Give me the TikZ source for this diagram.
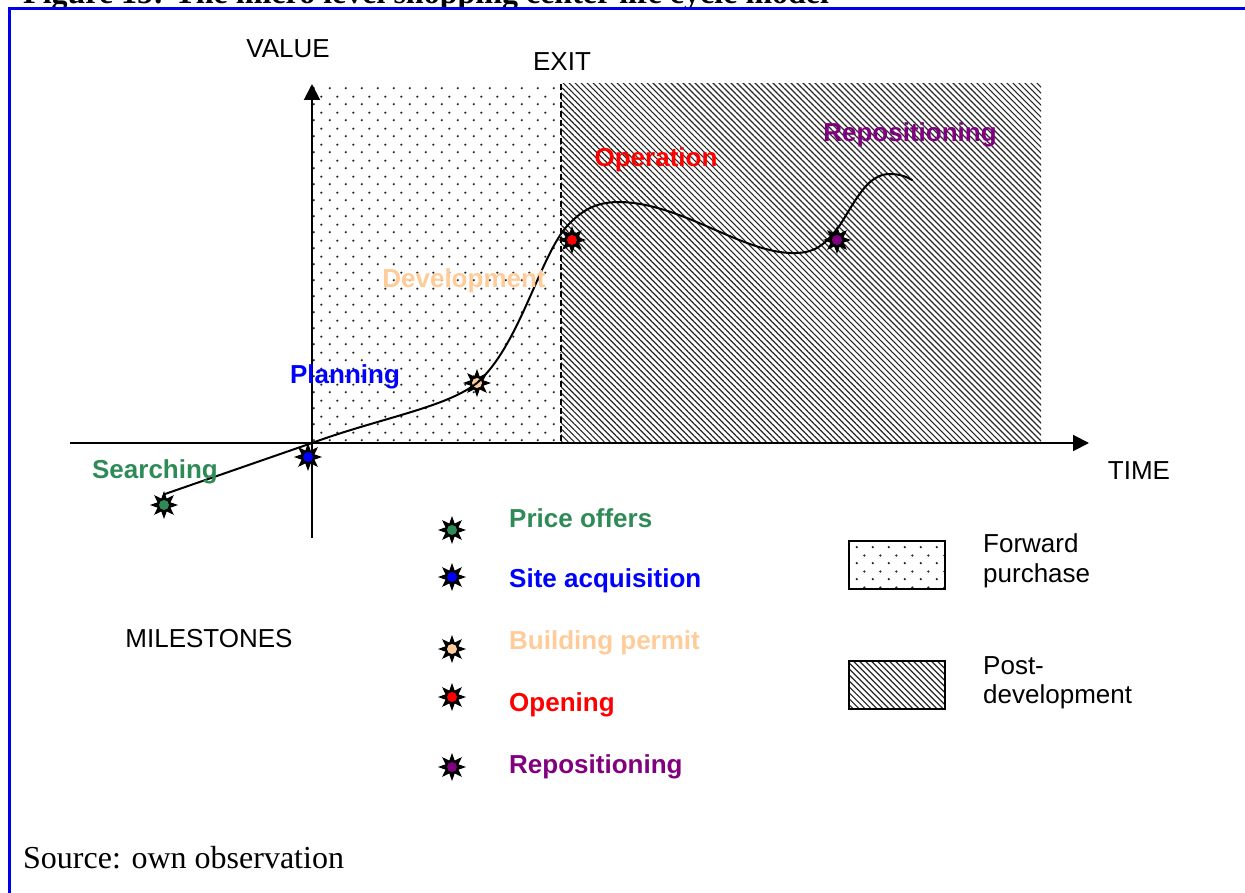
\documentclass[tikz,border=0pt]{standalone}
\usepackage{fontspec}
\setmainfont{Liberation Serif}
\newfontfamily\arialf{Liberation Sans}
\usetikzlibrary{shapes.geometric,patterns,patterns.meta,arrows.meta}

\definecolor{cgreen}{RGB}{46,139,87}
\definecolor{cblue}{RGB}{0,0,255}
\definecolor{cpeach}{RGB}{255,204,153}
\definecolor{cred}{RGB}{255,0,0}
\definecolor{cpurple}{RGB}{128,0,128}
\definecolor{frameblue}{RGB}{0,0,235}

% staggered dot fill for the forward-purchase phase
\pgfdeclarepatternformonly{stagdots}{\pgfpointorigin}{\pgfpoint{15.5pt}{15.5pt}}{\pgfpoint{15.5pt}{15.5pt}}{%
  \pgfpathcircle{\pgfpoint{3.9pt}{3.9pt}}{1.25pt}%
  \pgfpathcircle{\pgfpoint{11.65pt}{11.65pt}}{1.25pt}%
  \pgfusepath{fill}}

\tikzset{
  lbl/.style={font=\arialf\fontsize{26}{30}\selectfont, inner sep=0},
  blbl/.style={font=\arialf\bfseries\fontsize{26}{30}\selectfont, inner sep=0},
  axis/.style={line width=2pt, -{Triangle[length=16pt,width=16pt]}},
  fwdarea/.style={pattern=stagdots, pattern color=black!85},
  postarea/.style={pattern={Lines[angle=-45,distance=4.24pt,line width=1.2pt]}, pattern color=black!85},
  mstar/.style={star, star points=8, star point ratio=2.0, minimum size=28pt, inner sep=0, fill=black, draw=none},
  mdot/.style={circle, minimum size=10pt, inner sep=0, draw=none},
  lifecurve/.style={line width=2pt, line cap=round},
  legbox/.style={draw=black, line width=2pt},
}

\newcommand\milestone[3]{%
  \node[mstar] (#1) at #2 {};
  \node[mdot, fill=#3] (#1-c) at (#1) {};}

\begin{document}
\begin{tikzpicture}[x=1pt,y=-1pt]
\useasboundingbox (0,0) rectangle (1245,893);
\clip (0,0) rectangle (1245,893);

% caption and frame
\node[anchor=base west, font=\bfseries\fontsize{32}{36}\selectfont, inner sep=0] (title) at (23,4)
  {Figure 15: The micro level shopping center life cycle model};
\draw[frameblue, line width=3pt] (1260,9) -- (9,9) -- (9,910);

% phase areas
\fill[white] (312,84) rectangle (561,443);
\fill[fwdarea] (312,84) rectangle (561,443);
\fill[postarea] (561,84) rectangle (1041,443);
\coordinate (exittop) at (561,84);
\coordinate (exitbot) at (561,443);
\draw[line width=2pt, dash pattern=on 6pt off 3pt] (exittop) -- (exitbot);

% axes
\coordinate (ybot) at (312,538);
\coordinate (ytop) at (312,84);
\coordinate (xleft) at (70,443);
\coordinate (xright) at (1089,443);
\coordinate (o) at (312,443);
\draw[axis] (ybot) -- (ytop);
\draw[axis] (xleft) -- (xright);

\node[lbl, anchor=base] (value) at (288,58) {VALUE};
\node[lbl, anchor=base] (exit) at (562,71) {EXIT};
\node[lbl, anchor=base] (time) at (1139,479) {TIME};
\node[lbl, anchor=base] (miles) at (209,647) {MILESTONES};

% milestones on the curve
\milestone{ms}{(164,505)}{cgreen}
\milestone{mp}{(308,457)}{cblue}
\milestone{md}{(477,383)}{cpeach}
\milestone{mo}{(572,240)}{cred}
\milestone{mr}{(837,240)}{cpurple}

% life cycle curve
\coordinate (cstart) at (165,494);
\draw[lifecurve] (cstart) -- (o)
  .. controls (380,418) and (445,408) .. (477,383)
  .. controls (520,345) and (540,255) .. (568,225)
  .. controls (585,207) and (600,202) .. (620,202)
  .. controls (680,203) and (740,251) .. (790,253)
  .. controls (815,254) and (825,245) .. (840,225)
  .. controls (857,198) and (868,174) .. (890,174)
  .. controls (900,174) and (907,177) .. (912,180);

% phase labels
\node[blbl, text=cgreen, anchor=base] (lsearch) at (155,478) {Searching};
\node[blbl, text=cblue, anchor=base] (lplan) at (345,383) {Planning};
\node[blbl, text=cpeach, anchor=base] (ldev) at (464,288) {Development};
\node[blbl, text=cred, anchor=base] (lop) at (656,167) {Operation};
\node[blbl, text=cpurple, anchor=base] (lrep) at (910,142) {Repositioning};

% milestone legend
\milestone{k1}{(452,530)}{cgreen}
\milestone{k2}{(452,577)}{cblue}
\milestone{k3}{(452,649)}{cpeach}
\milestone{k4}{(452,697)}{cred}
\milestone{k5}{(452,767)}{cpurple}
\node[blbl, text=cgreen, anchor=base west] (t1) at (509,527) {Price offers};
\node[blbl, text=cblue, anchor=base west] (t2) at (509,587) {Site acquisition};
\node[blbl, text=cpeach, anchor=base west] (t3) at (509,649) {Building permit};
\node[blbl, text=cred, anchor=base west] (t4) at (509,711) {Opening};
\node[blbl, text=cpurple, anchor=base west] (t5) at (509,773) {Repositioning};

% area legend
\fill[fwdarea] (849,541) rectangle (945,589);
\draw[legbox] (849,541) rectangle (945,589);
\fill[postarea] (849,661) rectangle (945,709);
\draw[legbox] (849,661) rectangle (945,709);
\node[lbl, anchor=base west] (fw1) at (983,552) {Forward};
\node[lbl, anchor=base west] (fw2) at (983,582) {purchase};
\node[lbl, anchor=base west] (pd1) at (983,674) {Post-};
\node[lbl, anchor=base west] (pd2) at (983,703) {development};

% source note
\node[anchor=base west, font=\fontsize{32}{36}\selectfont, inner sep=0] (src) at (23,868) {Source: own observation};
\end{tikzpicture}
\end{document}
